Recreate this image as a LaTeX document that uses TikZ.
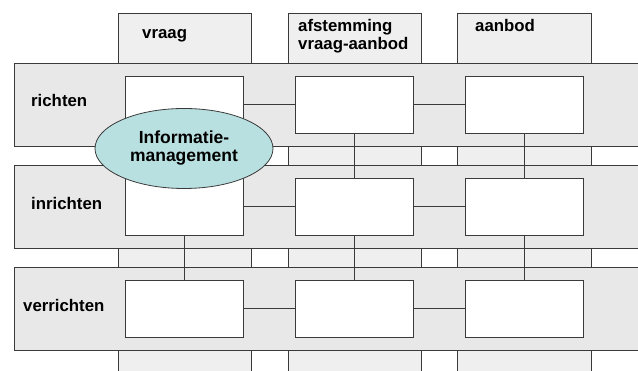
\documentclass[tikz,border=0pt]{standalone}
\usepackage{fontspec}
\setmainfont{Liberation Sans}[BoldFont={Liberation Sans Bold}]
\usetikzlibrary{shapes.geometric}
\definecolor{edgegray}{HTML}{3A3A3A}
\definecolor{rowfill}{HTML}{E8E8E8}
\definecolor{colfill}{HTML}{EFEFEF}
\definecolor{ellfill}{HTML}{B9E0E0}
\begin{document}
\begin{tikzpicture}[x=1pt,y=-1pt,
  colbox/.style={rectangle, draw=edgegray, fill=colfill, line width=0.8pt, anchor=north west, inner sep=0pt, minimum height=380pt},
  rowband/.style={rectangle, draw=edgegray, fill=rowfill, line width=0.8pt, anchor=north west, inner sep=0pt, minimum width=660pt, minimum height=83pt},
  cellbox/.style={rectangle, draw=edgegray, fill=white, line width=0.8pt, inner sep=0pt, minimum width=118pt, minimum height=57pt},
  conn/.style={draw=edgegray, line width=0.8pt},
  lbl/.style={inner sep=0pt, font=\fontsize{16.8}{18}\selectfont\bfseries, text=black},
  ell/.style={ellipse, draw=edgegray, fill=ellfill, line width=0.8pt, inner sep=0pt, minimum width=178pt, minimum height=80pt, align=center, font=\fontsize{17.5}{18}\selectfont\bfseries}
]
\useasboundingbox (0,0) rectangle (638,371);
\begin{scope}
\clip (0,0) rectangle (638,371);
% columns
\node[colbox, minimum width=133pt] (c1) at (118,13) {};
\node[colbox, minimum width=133pt] (c2) at (288,13) {};
\node[colbox, minimum width=134pt] (c3) at (457,13) {};
% rows
\node[rowband] (r1) at (14,63) {};
\node[rowband] (r2) at (14,165) {};
\node[rowband] (r3) at (14,267) {};
\end{scope}
% column headers
\node[lbl, anchor=base west] (hvraag) at (142,39) {vraag};
\node[lbl, anchor=base west, align=left] (hafst) at (298,50) {afstemming\\vraag-aanbod};
\node[lbl, anchor=base west] (haanbod) at (475,32) {aanbod};
% row labels
\node[lbl, anchor=base west] (lrichten) at (31,107) {richten};
\node[lbl, anchor=base west] (linrichten) at (31,210) {inrichten};
\node[lbl, anchor=base west] (lverrichten) at (23,312) {verrichten};
% cells
\node[cellbox] (b11) at (184,104.5) {};
\node[cellbox] (b12) at (354.5,104.5) {};
\node[cellbox] (b13) at (524.5,104.5) {};
\node[cellbox] (b21) at (184,206.5) {};
\node[cellbox] (b22) at (354.5,206.5) {};
\node[cellbox] (b23) at (524.5,206.5) {};
\node[cellbox] (b31) at (184,308.5) {};
\node[cellbox] (b32) at (354.5,308.5) {};
\node[cellbox] (b33) at (524.5,308.5) {};
% connectors
\draw[conn] (b11) -- (b12);
\draw[conn] (b12) -- (b13);
\draw[conn] (b21) -- (b22);
\draw[conn] (b22) -- (b23);
\draw[conn] (b31) -- (b32);
\draw[conn] (b32) -- (b33);
\draw[conn] (b12) -- (b22);
\draw[conn] (b22) -- (b32);
\draw[conn] (b13) -- (b23);
\draw[conn] (b23) -- (b33);
\draw[conn] (b21) -- (b31);
% ellipse
\node[ell] (im) at (184,148.5) {Informatie-\\management};
\end{tikzpicture}
\end{document}
